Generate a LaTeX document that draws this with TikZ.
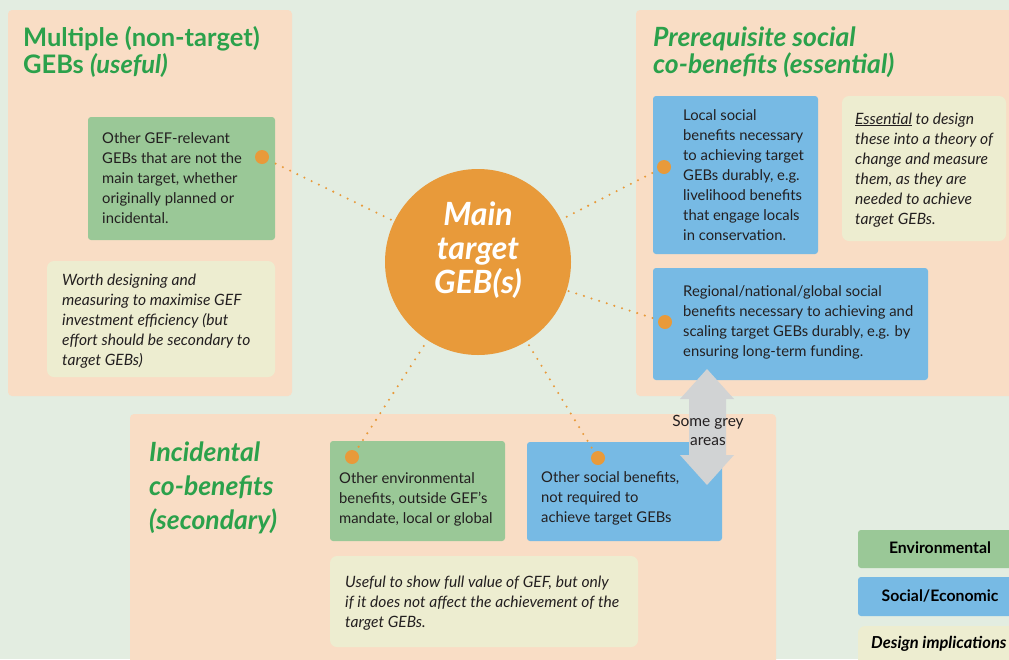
\documentclass[tikz,border=0pt]{standalone}
\usepackage{fontspec}
\setmainfont{Lato}
\definecolor{bgc}{HTML}{E3EDE1}
\definecolor{panelc}{HTML}{F9DDC5}
\definecolor{greenc}{HTML}{9AC897}
\definecolor{bluec}{HTML}{77BAE4}
\definecolor{notec}{HTML}{EDEDD0}
\definecolor{orangec}{HTML}{E89A3A}
\definecolor{titlec}{HTML}{2BA14B}
\definecolor{greyc}{HTML}{D1D3D4}
\definecolor{textc}{HTML}{231F20}
\tikzset{
  panel/.style={fill=panelc, rounded corners=4pt},
  boxbase/.style={anchor=north west, inner sep=0pt, outer sep=0pt, rounded corners=3pt},
  gbox/.style={boxbase, fill=greenc},
  bbox/.style={boxbase, fill=bluec},
  nbox/.style={boxbase, fill=notec, rounded corners=7pt},
  txt/.style={anchor=base west, align=left, inner sep=0pt, text=textc, font=\fontsize{14.8}{20}\selectfont},
  ntxt/.style={txt, font=\fontsize{15.6}{20}\selectfont\itshape},
  ttl/.style={anchor=base west, align=left, inner sep=0pt, text=titlec, font=\fontsize{25.5}{27}\selectfont\bfseries},
  dot/.style={circle, fill=orangec, minimum size=14pt, inner sep=0pt},
  conn/.style={draw=orangec, line width=2.3pt, line cap=round, dash pattern=on 0pt off 8pt},
}
\begin{document}
\begin{tikzpicture}[x=1pt,y=-1pt]
\useasboundingbox (0,0) rectangle (1009,659);
\clip (0,0) rectangle (1009,659);
\fill[bgc] (0,0) rectangle (1009,659);
% panels
\path[panel] (8,10) rectangle (292,396);
\path[panel] (636,10) rectangle (1030,396);
\path[panel] (130,414) rectangle (776,680);
% titles (anchored at the baseline of the last line)
\node[ttl] (t1) at (23,73) {Multiple (non-target)\\GEBs \textit{(useful)}};
\node[ttl, font=\fontsize{26.5}{27}\selectfont\bfseries\itshape] (t2) at (653,73) {Prerequisite social\\co-benefits (essential)};
\node[ttl, font=\fontsize{26.5}{34}\selectfont\bfseries\itshape] (t3) at (149,529) {Incidental\\co-benefits\\(secondary)};
% boxes
\node[gbox, minimum width=187pt, minimum height=123pt] (g1) at (88,117) {};
\node[nbox, minimum width=228pt, minimum height=116pt] (n1) at (47,261) {};
\node[bbox, minimum width=165pt, minimum height=158pt] (b1) at (653,96) {};
\node[nbox, minimum width=164pt, minimum height=145pt] (n2) at (842,96) {};
\node[bbox, minimum width=275pt, minimum height=112pt] (b2) at (653,268) {};
\node[gbox, minimum width=175pt, minimum height=100pt] (g2) at (330,441) {};
\node[bbox, minimum width=195pt, minimum height=99pt] (b3) at (527,442) {};
\node[nbox, minimum width=308pt, minimum height=91pt] (n3) at (330,556) {};
% legend
\node[gbox, minimum width=170pt, minimum height=38pt] (lg) at (858,530) {};
\node[bbox, minimum width=170pt, minimum height=39pt] (lb) at (858,577) {};
\node[nbox, minimum width=170pt, minimum height=50pt] (ln) at (858,626) {};
% main circle
\node[circle, fill=orangec, minimum size=186pt, inner sep=0pt] (main) at (478,262) {};
% dots
\node[dot] (d1) at (262,157) {};
\node[dot] (d2) at (664,167) {};
\node[dot] (d3) at (665,322) {};
\node[dot] (d4) at (352,457) {};
\node[dot] (d5) at (598,458) {};
% connectors
\draw[conn, shorten <=8pt] (d1) -- (main);
\draw[conn, shorten <=6pt] (d2) -- (main);
\draw[conn, shorten <=6pt] (d3) -- (main);
\draw[conn, shorten <=5pt] (d4) -- (main);
\draw[conn, shorten <=5pt] (d5) -- (main);
% grey double arrow
\fill[greyc] (707,369) -- (734,399) -- (726,399) -- (726,455) -- (734,455) -- (707,485) -- (680,455) -- (689,455) -- (689,399) -- (680,399) -- cycle;
\node[anchor=base, align=center, inner sep=0pt, text=textc, font=\fontsize{15.5}{19}\selectfont] (grey) at (708,445) {Some grey\\areas};
% main text
\node[anchor=base, align=center, inner sep=0pt, text=white, font=\fontsize{32}{34}\selectfont\bfseries\itshape] (maintxt) at (478,293) {Main\\target\\GEB(s)};
% box texts
\node[txt] (g1t) at (102,223) {Other GEF-relevant\\GEBs that are not the\\main target, whether\\originally planned or\\incidental.};
\node[ntxt] (n1t) at (62,365) {Worth designing and\\measuring to maximise GEF\\investment efficiency (but\\effort should be secondary to\\target GEBs)};
\node[txt] (b1t) at (683,240) {Local social\\benefits necessary\\to achieving target\\GEBs durably, e.g.\\livelihood benefits\\that engage locals\\in conservation.};
\node[ntxt] (n2t) at (855,224) {\underline{Essential} to design\\these into a theory of\\change and measure\\them, as they are\\needed to achieve\\target GEBs.};
\node[txt] (b2t) at (683,356) {Regional/national/global social\\benefits necessary to achieving and\\scaling target GEBs durably, e.g. by\\ensuring long-term funding.};
\node[txt] (g2t) at (339,523) {Other environmental\\benefits, outside GEF’s\\mandate, local or global};
\node[txt] (b3t) at (541,522) {Other social benefits,\\not required to\\achieve target GEBs};
\node[ntxt] (n3t) at (345,627) {Useful to show full value of GEF, but only\\if it does not affect the achievement of the\\target GEBs.};
% legend texts
\node[anchor=base, inner sep=0pt, text=black, font=\fontsize{15.8}{16}\selectfont\bfseries] (lgt) at (940,553) {Environmental};
\node[anchor=base, inner sep=0pt, text=black, font=\fontsize{15.8}{16}\selectfont\bfseries] (lbt) at (940,601) {Social/Economic};
\node[anchor=base west, inner sep=0pt, text=black, font=\fontsize{16.5}{16}\selectfont\bfseries\itshape] (lnt) at (871,648) {Design implications};
\end{tikzpicture}
\end{document}
